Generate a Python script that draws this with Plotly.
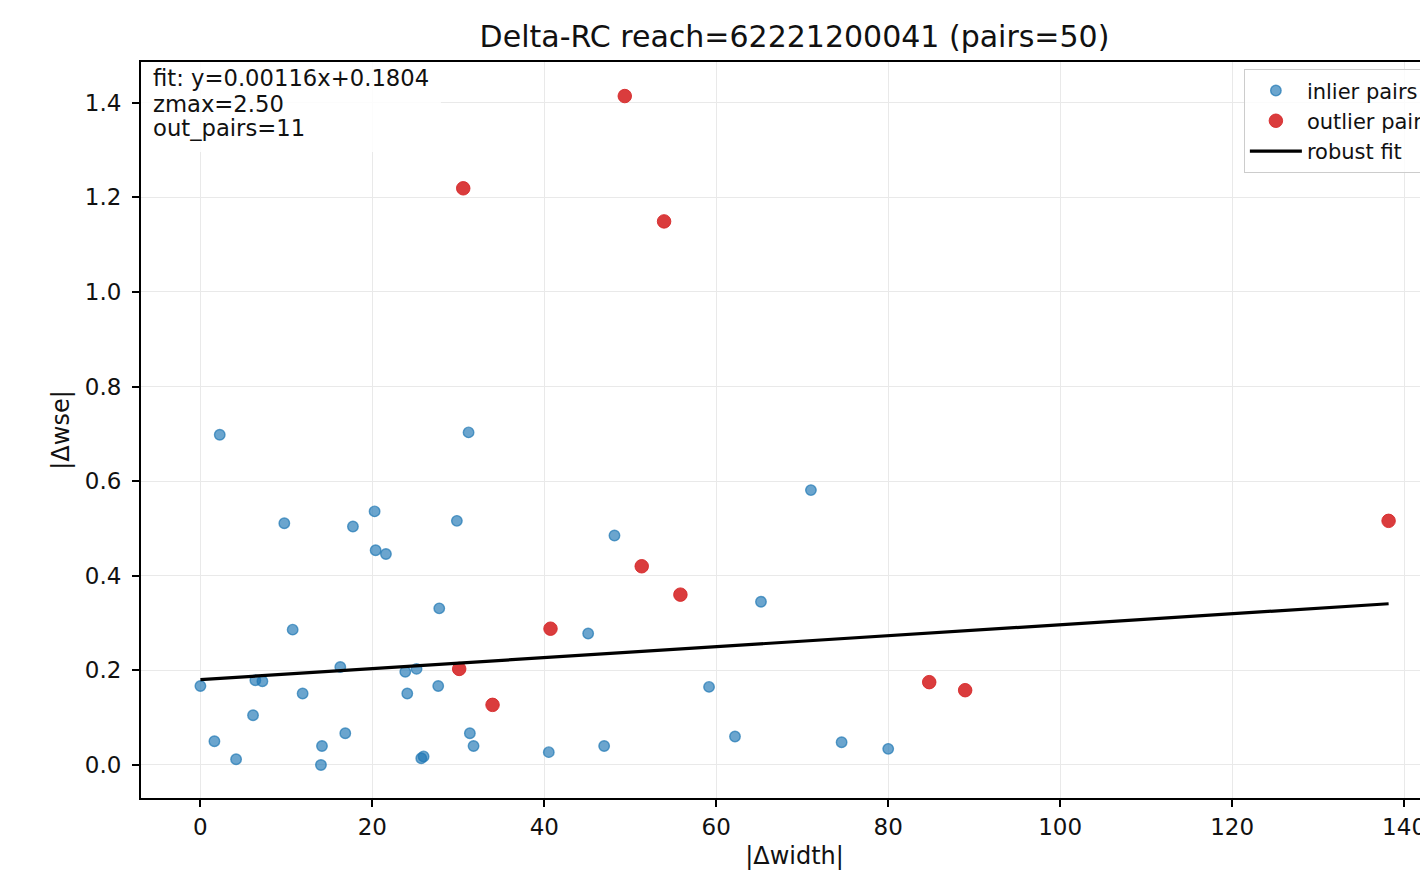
import plotly.graph_objects as go

# ---- data ----
inlier_x = [2.25, 9.76, 17.74, 20.26, 20.38, 21.58, 29.83, 27.78, 10.73, 16.27,
            0.0, 6.39, 7.21, 11.89, 6.12, 1.63, 4.15, 14.14, 14.02, 16.85,
            23.83, 25.14, 24.06, 27.66, 25.69, 25.96,
            31.19, 48.16, 45.10, 31.34, 31.77, 40.52, 46.96,
            71.01, 65.20, 59.16, 62.18, 74.58, 80.00]
inlier_y = [0.698, 0.511, 0.504, 0.536, 0.454, 0.446, 0.516, 0.331, 0.286, 0.207,
            0.167, 0.179, 0.177, 0.151, 0.105, 0.050, 0.012, 0.040, 0.000, 0.067,
            0.197, 0.203, 0.151, 0.167, 0.014, 0.018,
            0.703, 0.485, 0.278, 0.067, 0.040, 0.027, 0.040,
            0.581, 0.345, 0.165, 0.060, 0.048, 0.034]

outlier_x = [49.36, 30.57, 53.93, 51.33, 55.83, 40.72, 30.10, 33.98, 84.77, 88.95, 138.2]
outlier_y = [1.414, 1.219, 1.149, 0.420, 0.360, 0.288, 0.203, 0.127, 0.175, 0.158, 0.516]

fit_slope = 0.00116
fit_intercept = 0.1804
fit_x = [0.0, 138.2]
fit_y = [fit_slope * v + fit_intercept for v in fit_x]

x_ticks = [0, 20, 40, 60, 80, 100, 120, 140]
y_ticks = [0.0, 0.2, 0.4, 0.6, 0.8, 1.0, 1.2, 1.4]

title_text = "Delta-RC reach=62221200041 (pairs=50)"
info_lines = ["fit: y=0.00116x+0.1804", "zmax=2.50", "out_pairs=11"]

# ---- figure ----
FONT = "DejaVu Sans"
W, H = 1500, 870
L, R, T, B = 141, 51.5, 62, 72
plot_w = W - L - R
plot_h = H - T - B

x_range = [-6.91, 145.11]
y_range = [-0.0699, 1.4860]

fig = go.Figure()
fig.add_trace(go.Scatter(
    x=inlier_x, y=inlier_y, mode="markers", name="inlier pairs",
    marker=dict(size=10.5, color="rgba(31,119,180,0.66)",
                line=dict(color="rgba(31,119,180,0.7)", width=1.4)),
))
fig.add_trace(go.Scatter(
    x=outlier_x, y=outlier_y, mode="markers", name="outlier pairs",
    marker=dict(size=13.5, color="rgba(214,39,40,0.9)",
                line=dict(color="rgba(214,39,40,0.9)", width=1)),
))
fig.add_trace(go.Scatter(
    x=fit_x, y=fit_y, mode="lines", name="robust fit",
    line=dict(color="black", width=3.2),
))

def px_x(p):
    return (p - L) / plot_w

def px_y(p):
    return (H - B - p) / plot_h

# info box (semi-transparent white, covers top spine)
fig.add_shape(type="rect", xref="paper", yref="paper",
              x0=0, x1=px_x(441), y0=px_y(152), y1=1.0,
              fillcolor="rgba(255,255,255,0.86)", line=dict(width=0), layer="above")
for i, line in enumerate(info_lines):
    fig.add_annotation(xref="paper", yref="paper", x=px_x(151), y=px_y(78.5 + 25 * i),
                       xanchor="left", yanchor="middle", showarrow=False,
                       text=line, font=dict(family=FONT, size=22.7, color="#111111"))

fig.update_layout(
    width=W, height=H,
    margin=dict(l=L, r=R, t=T, b=B, autoexpand=False),
    paper_bgcolor="white", plot_bgcolor="white",
    font=dict(family=FONT, color="#111111"),
    title=dict(text=title_text, x=0.5, xref="paper", y=1 - 36 / H, yref="container",
               xanchor="center", yanchor="middle",
               font=dict(family=FONT, size=30, color="#111111")),
    showlegend=True,
    legend=dict(x=px_x(1244), y=px_y(69), xanchor="left", yanchor="top",
                bgcolor="rgba(255,255,255,0.8)", bordercolor="#cccccc", borderwidth=1.3,
                font=dict(family=FONT, size=21, color="#111111"),
                itemwidth=52, itemsizing="trace"),
)
fig.update_xaxes(
    range=x_range, tickvals=x_ticks, ticktext=[str(v) for v in x_ticks],
    showgrid=True, gridcolor="#e9e9e9", gridwidth=1.3,
    showline=True, linecolor="black", linewidth=2, mirror=True,
    ticks="outside", ticklen=7, tickwidth=1.8, tickcolor="black",
    tickfont=dict(family=FONT, size=23, color="#111111"),
    title=dict(text="|\u0394width|", font=dict(family=FONT, size=24, color="#111111"), standoff=15),
    zeroline=False, automargin=False,
)
fig.update_yaxes(
    range=y_range, tickvals=y_ticks, ticktext=["%.1f" % v for v in y_ticks],
    showgrid=True, gridcolor="#e9e9e9", gridwidth=1.3,
    showline=True, linecolor="black", linewidth=2, mirror=False,
    ticks="outside", ticklen=7, tickwidth=1.8, tickcolor="black",
    tickfont=dict(family=FONT, size=23, color="#111111"),
    ticklabelstandoff=6,
    title=dict(text="|\u0394wse|", font=dict(family=FONT, size=24, color="#111111"), standoff=8),
    zeroline=False, automargin=False,
)

post = ("document.documentElement.style.overflow='hidden';"
        "document.body.style.overflow='hidden';"
        "document.body.style.margin='0';")
fig.write_html("out.html", post_script=post, config={"displayModeBar": False})
